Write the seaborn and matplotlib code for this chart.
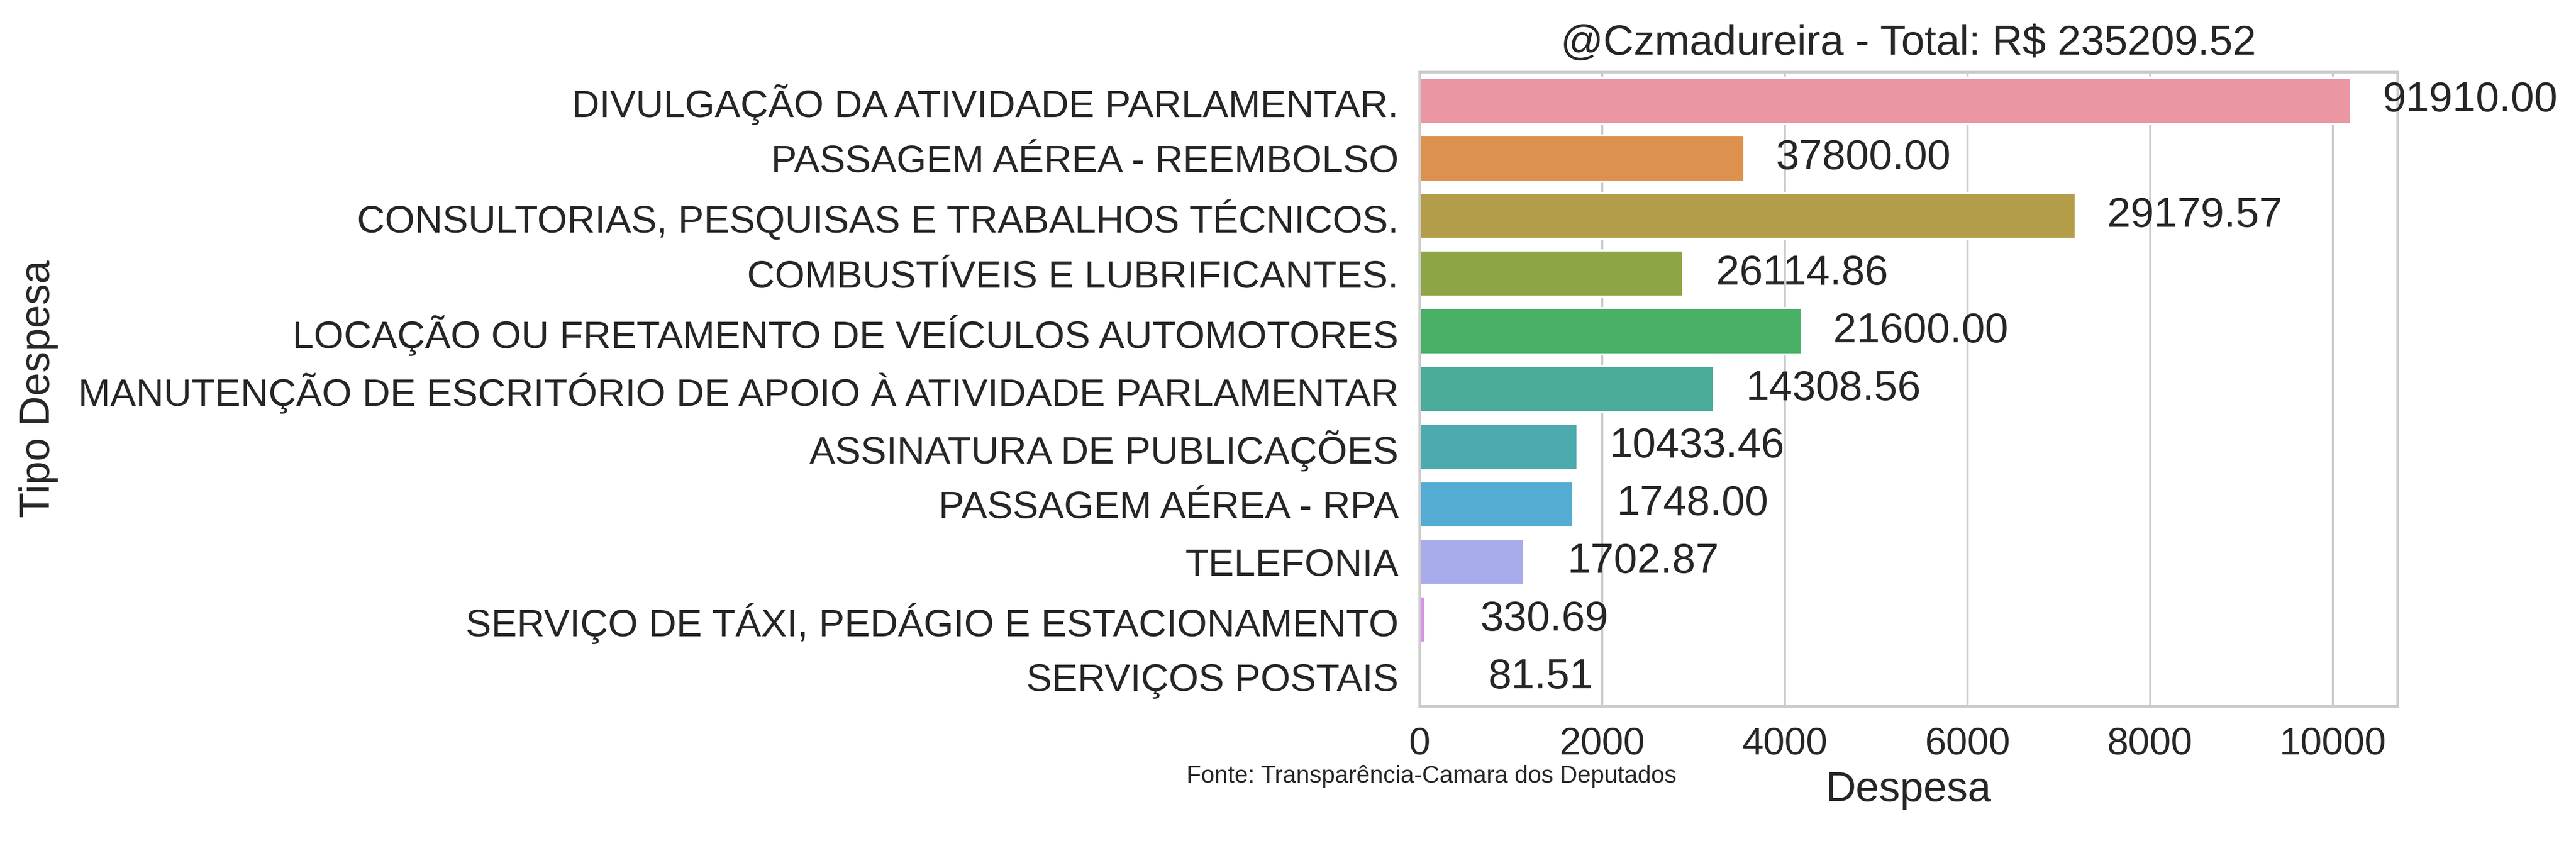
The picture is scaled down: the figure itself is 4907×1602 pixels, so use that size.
import pandas as pd
import matplotlib
matplotlib.use("Agg")
import matplotlib.pyplot as plt
import seaborn as sns

categorias = [
    "DIVULGAÇÃO DA ATIVIDADE PARLAMENTAR.",
    "PASSAGEM AÉREA - REEMBOLSO",
    "CONSULTORIAS, PESQUISAS E TRABALHOS TÉCNICOS.",
    "COMBUSTÍVEIS E LUBRIFICANTES.",
    "LOCAÇÃO OU FRETAMENTO DE VEÍCULOS AUTOMOTORES",
    "MANUTENÇÃO DE ESCRITÓRIO DE APOIO À ATIVIDADE PARLAMENTAR",
    "ASSINATURA DE PUBLICAÇÕES",
    "PASSAGEM AÉREA - RPA",
    "TELEFONIA",
    "SERVIÇO DE TÁXI, PEDÁGIO E ESTACIONAMENTO",
    "SERVIÇOS POSTAIS",
]
# bar length (as drawn) and the total written next to each bar
despesa = [10199, 3560, 7187, 2888, 4183, 3228, 1734, 1685, 1145, 63, 20]
totais = [91910.00, 37800.00, 29179.57, 26114.86, 21600.00, 14308.56,
          10433.46, 1748.00, 1702.87, 330.69, 81.51]

titulo = "@Czmadureira - Total: R$ %.2f" % sum(totais)
fonte = "Fonte: Transparência-Camara dos Deputados"

df = pd.DataFrame({"Tipo Despesa": categorias, "Despesa": despesa, "Total": totais})

sns.set_theme(style="whitegrid", font_scale=1.6)
plt.rcParams["font.family"] = ["Liberation Sans", "DejaVu Sans"]

fig = plt.figure(figsize=(4907 / 300, 1602 / 300), dpi=300)
ax = fig.add_axes([0.551, 0.1604, 0.3797, 0.7541])

# old seaborn default for many categories: husl with l=.7, desaturated to .75
cores = sns.husl_palette(len(categorias), l=.7)
sns.barplot(data=df, x="Despesa", y="Tipo Despesa", hue="Tipo Despesa",
            palette=cores, saturation=.75, legend=False, ax=ax)

for cont, total in zip(ax.containers, totais):
    for p in cont.patches:
        ax.annotate("%.2f" % total,
                    (p.get_x() + p.get_width(), p.get_y() + p.get_height() / 2),
                    xytext=(54.5, 0), textcoords="offset points",
                    ha="center", va="center")

ax.set_title(titulo, pad=8)
ax.yaxis.labelpad = 9
fig.text(0.4606, 0.0693, fonte, fontsize=11, va="baseline")

fig.savefig("out.png", dpi=300)
